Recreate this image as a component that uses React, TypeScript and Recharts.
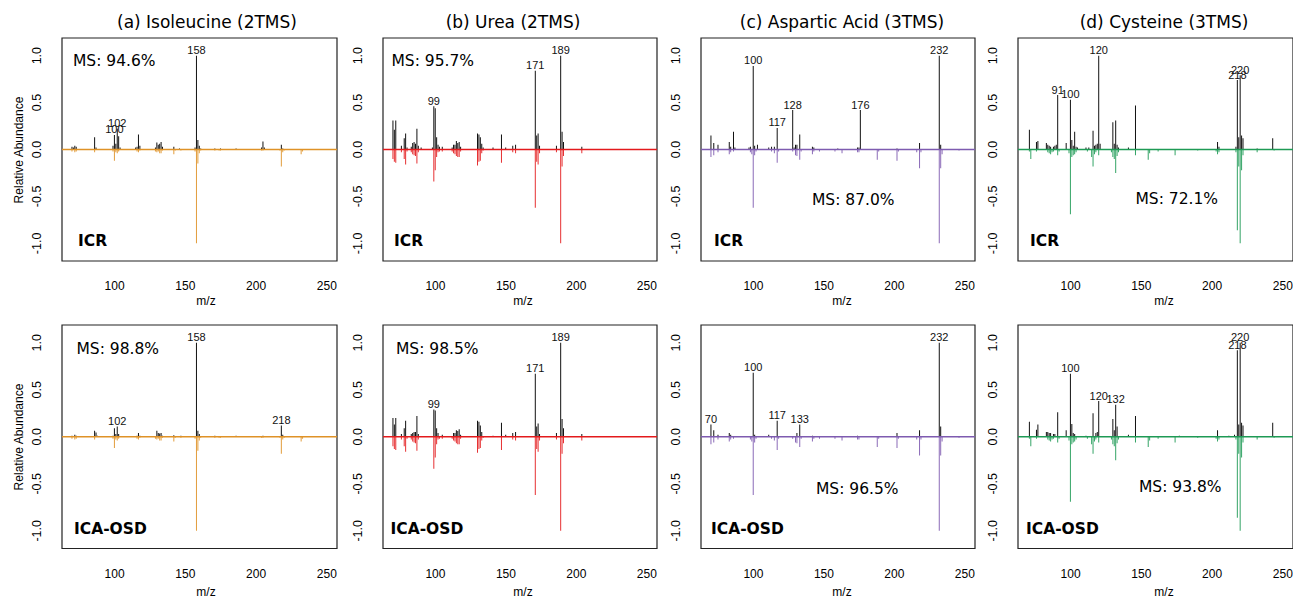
import React from "react";
import {
  Bar,
  ComposedChart,
  LabelList,
  ReferenceArea,
  ReferenceLine,
  XAxis,
  YAxis,
} from "recharts";

type Peak = [number, number];

const titles = [
  "(a) Isoleucine (2TMS)",
  "(b) Urea (2TMS)",
  "(c) Aspartic Acid (3TMS)",
  "(d) Cysteine (3TMS)",
];
const methods = ["ICR", "ICA-OSD"];
const icrScores = [94.6, 95.7, 87.0, 72.1];
const osdScores = [98.8, 98.5, 96.5, 93.8];
const xTicks = [100, 150, 200, 250];
const yTicks = [-1, -0.5, 0, 0.5, 1];
const xLim = [70, 250];
const yLim = [-1.1, 1.1];

// library spectra (drawn downwards), [m/z, relative abundance]
const ileLib: Peak[] = [[70,0.02],[72,0.03],[73,0.02],[86,0.03],[99,0.02],[100,0.12],[101,0.03],[102,0.04],[103,0.02],[116,0.02],[117,0.03],[118,0.01],[129,0.02],[130,0.03],[131,0.02],[132,0.04],[133,0.04],[134,0.01],[142,0.05],[143,0.01],[147,0.01],[157,0.02],[158,1.0],[159,0.15],[160,0.04],[161,0.01],[171,0.01],[174,0.01],[175,0.01],[204,0.01],[205,0.01],[217,0.01],[218,0.18],[219,0.03],[220,0.01],[232,0.05],[233,0.02]];
const ureaLib: Peak[] = [[70,0.10],[71,0.13],[72,0.14],[76,0.03],[78,0.10],[79,0.16],[80,0.02],[83,0.03],[84,0.05],[85,0.06],[86,0.07],[87,0.15],[88,0.03],[99,0.34],[100,0.22],[101,0.08],[102,0.03],[103,0.02],[105,0.02],[112,0.02],[113,0.04],[114,0.05],[115,0.07],[116,0.08],[117,0.08],[118,0.02],[130,0.17],[131,0.13],[132,0.12],[133,0.04],[134,0.01],[147,0.14],[155,0.03],[157,0.04],[171,0.62],[172,0.13],[173,0.16],[174,0.04],[186,0.03],[189,1.0],[190,0.18],[191,0.07],[204,0.04]];
const aspLib: Peak[] = [[70,0.08],[72,0.06],[75,0.03],[83,0.05],[84,0.03],[86,0.02],[98,0.03],[99,0.05],[100,0.62],[101,0.06],[102,0.02],[113,0.02],[115,0.04],[117,0.14],[118,0.02],[128,0.02],[130,0.06],[131,0.07],[133,0.11],[134,0.02],[142,0.05],[143,0.02],[147,0.02],[158,0.02],[163,0.04],[174,0.03],[175,0.03],[188,0.11],[189,0.02],[202,0.12],[203,0.02],[216,0.03],[218,0.20],[219,0.03],[232,1.0],[233,0.2],[234,0.05],[246,0.01]];
const cysLib: Peak[] = [[71,0.02],[72,0.10],[76,0.02],[84,0.03],[85,0.04],[86,0.05],[87,0.03],[88,0.02],[91,0.06],[92,0.02],[99,0.04],[100,0.69],[101,0.08],[102,0.06],[103,0.05],[104,0.03],[112,0.02],[115,0.08],[116,0.18],[117,0.05],[118,0.03],[120,0.06],[129,0.03],[130,0.08],[131,0.10],[132,0.25],[133,0.07],[134,0.03],[146,0.06],[155,0.11],[156,0.04],[162,0.02],[174,0.06],[190,0.01],[203,0.02],[204,0.05],[205,0.03],[217,0.03],[218,0.86],[219,0.18],[220,1.0],[221,0.22],[222,0.06],[232,0.03],[244,0.01]];

// extracted spectra, ICR
const ileIcr: Peak[] = [[70,0.03],[71,0.02],[72,0.04],[73,0.03],[86,0.13],[87,0.02],[99,0.04],[100,0.155],[101,0.06],[102,0.22],[103,0.14],[104,0.02],[115,0.02],[116,0.03],[117,0.16],[118,0.04],[129,0.02],[130,0.075],[131,0.05],[132,0.06],[133,0.08],[134,0.03],[142,0.03],[146,0.01],[157,0.02],[158,1.0],[159,0.1],[160,0.04],[161,0.01],[171,0.01],[175,0.01],[186,0.01],[204,0.02],[205,0.085],[206,0.02],[218,0.05],[219,0.01]];
const ureaIcr: Peak[] = [[70,0.31],[71,0.21],[72,0.31],[76,0.04],[78,0.12],[79,0.17],[80,0.02],[83,0.03],[84,0.07],[85,0.08],[86,0.06],[87,0.22],[88,0.04],[90,0.02],[98,0.02],[99,0.46],[100,0.44],[101,0.13],[102,0.05],[103,0.03],[105,0.03],[112,0.02],[113,0.05],[114,0.05],[115,0.09],[116,0.07],[117,0.08],[118,0.03],[130,0.17],[131,0.16],[132,0.13],[133,0.06],[134,0.02],[141,0.02],[147,0.16],[150,0.02],[155,0.04],[157,0.05],[171,0.84],[172,0.15],[173,0.17],[174,0.04],[186,0.04],[189,1.0],[190,0.19],[191,0.08],[204,0.03]];
const aspIcr: Peak[] = [[70,0.15],[72,0.07],[75,0.05],[83,0.08],[84,0.03],[86,0.19],[87,0.02],[97,0.02],[98,0.03],[100,0.89],[101,0.04],[103,0.05],[111,0.02],[113,0.03],[115,0.03],[117,0.23],[128,0.42],[129,0.02],[130,0.05],[131,0.05],[133,0.16],[142,0.03],[143,0.02],[160,0.01],[174,0.02],[175,0.02],[176,0.42],[202,0.01],[218,0.07],[232,1.0],[233,0.05]];
const cysIcr: Peak[] = [[71,0.21],[76,0.08],[77,0.09],[83,0.07],[84,0.05],[85,0.04],[86,0.03],[88,0.03],[89,0.04],[90,0.05],[91,0.58],[97,0.07],[100,0.53],[101,0.10],[102,0.04],[103,0.19],[104,0.03],[105,0.02],[111,0.02],[113,0.02],[116,0.20],[117,0.04],[118,0.05],[119,0.06],[120,1.0],[121,0.06],[130,0.29],[131,0.06],[132,0.31],[133,0.05],[134,0.02],[141,0.02],[146,0.47],[204,0.08],[205,0.03],[217,0.03],[218,0.74],[219,0.13],[220,0.79],[221,0.15],[222,0.12],[232,0.01],[243,0.12]];

// extracted spectra, ICA-OSD
const ileOsd: Peak[] = [[70,0.01],[72,0.02],[73,0.01],[86,0.065],[87,0.045],[88,0.01],[99,0.01],[100,0.09],[101,0.03],[102,0.11],[103,0.03],[116,0.01],[117,0.04],[118,0.01],[130,0.065],[131,0.04],[132,0.035],[133,0.04],[134,0.01],[142,0.015],[147,0.01],[158,1.0],[159,0.065],[160,0.03],[171,0.01],[186,0.01],[205,0.01],[218,0.12],[219,0.02]];
const ureaOsd: Peak[] = [[70,0.20],[71,0.13],[72,0.20],[76,0.03],[78,0.09],[79,0.17],[83,0.03],[84,0.04],[85,0.05],[86,0.05],[87,0.22],[88,0.03],[99,0.29],[100,0.28],[101,0.09],[102,0.04],[105,0.02],[113,0.04],[114,0.04],[115,0.07],[116,0.06],[117,0.08],[118,0.02],[130,0.17],[131,0.16],[132,0.12],[133,0.05],[141,0.01],[147,0.15],[150,0.02],[155,0.04],[157,0.05],[171,0.67],[172,0.11],[173,0.14],[174,0.03],[186,0.04],[189,1.0],[190,0.19],[191,0.09],[204,0.03]];
const aspOsd: Peak[] = [[70,0.13],[72,0.07],[75,0.02],[83,0.04],[84,0.02],[100,0.68],[101,0.02],[111,0.02],[117,0.17],[131,0.04],[133,0.13],[142,0.01],[174,0.01],[202,0.04],[218,0.07],[232,1.0],[233,0.11]];
const cysOsd: Peak[] = [[71,0.16],[76,0.075],[77,0.13],[83,0.05],[84,0.05],[85,0.04],[86,0.04],[88,0.03],[89,0.03],[91,0.26],[97,0.07],[100,0.67],[101,0.135],[102,0.04],[103,0.03],[111,0.01],[116,0.25],[118,0.04],[119,0.05],[120,0.38],[130,0.19],[131,0.07],[132,0.34],[133,0.11],[141,0.02],[146,0.22],[177,0.01],[204,0.07],[212,0.01],[216,0.02],[218,0.92],[219,0.13],[220,1.0],[221,0.15],[222,0.12],[243,0.15]];

// annotated m/z values
const icrMarks = [[100, 102, 158], [99, 171, 189], [100, 117, 128, 176, 232], [91, 100, 120, 218, 220]];
const osdMarks = [[102, 158, 218], [99, 171, 189], [70, 100, 117, 133, 232], [100, 120, 132, 218, 220]];

const libSpectra = [ileLib, ureaLib, aspLib, cysLib];
const icrSpectra = [ileIcr, ureaIcr, aspIcr, cysIcr];
const osdSpectra = [ileOsd, ureaOsd, aspOsd, cysOsd];
const colors = ["#DF9227", "#E31A1C", "#7E5BB0", "#1E9A55"];

// panel geometry (plot boxes) and text placement
const colX = [62, 382.5, 701, 1017.5];
const colW = [275, 274, 274, 275];
const rowY = [38, 325];
const rowH = [223, 223.5];
const titleX = [207, 513, 842, 1164];
const mzX = [206, 523, 842, 1164];
const mzY = [301, 592];
const msPos = [
  [[73, 61], [391.5, 61], [812, 200], [1135.5, 199]],
  [[76.5, 349], [396, 349], [816, 489], [1139, 487]],
];
const methodX = [[78, 394, 714, 1030], [74, 390.5, 711, 1026]];
const methodY = [240.5, 528.5];

const PAD_L = 60;
const PAD_R = 4;
const PAD_T = 4;
const PAD_B = 50;

const widen = (lim: number[]) => {
  const d = (lim[1] - lim[0]) * 0.04;
  return [lim[0] - d, lim[1] + d];
};
const xDomain = widen(xLim);
const yDomain = widen(yLim);

const SANS = "'DejaVu Sans', Verdana, sans-serif";
const ARIAL = "'Liberation Sans', Arial, sans-serif";

function mirrorRows(ext: Peak[], lib: Peak[]) {
  const map = new Map<number, { mz: number; ext: number; lib: number }>();
  const row = (mz: number) => {
    if (!map.has(mz)) map.set(mz, { mz, ext: 0, lib: 0 });
    return map.get(mz)!;
  };
  ext.forEach(([mz, v]) => (row(mz).ext = v));
  lib.forEach(([mz, v]) => (row(mz).lib = -v));
  return [...map.values()].sort((a, b) => a.mz - b.mz);
}

const renderXTick = (p: any) => (
  <text
    x={p.x}
    y={p.y + 25}
    textAnchor="middle"
    dominantBaseline="central"
    fontSize={12}
    fontFamily={ARIAL}
    fill="#000"
  >
    {p.payload.value}
  </text>
);

const renderYTick = (p: any) => {
  const tx = p.x - 25;
  return (
    <text
      x={tx}
      y={p.y}
      transform={`rotate(-90 ${tx} ${p.y})`}
      textAnchor="middle"
      dominantBaseline="central"
      fontSize={12.5}
      fontFamily={ARIAL}
      fill="#000"
    >
      {Number(p.payload.value).toFixed(1)}
    </text>
  );
};

const peakLabel = (marks: number[]) => (p: any) => {
  const mz = Number(p.value);
  if (!marks.includes(mz)) return null;
  return (
    <text
      x={Number(p.x) + Number(p.width) / 2}
      y={Number(p.y) - 1.5}
      textAnchor="middle"
      fontSize={11}
      fontFamily={ARIAL}
      fill="#111"
    >
      {mz}
    </text>
  );
};

function SpectrumPanel({
  rows,
  color,
  marks,
  x,
  y,
  w,
  h,
}: {
  rows: { mz: number; ext: number; lib: number }[];
  color: string;
  marks: number[];
  x: number;
  y: number;
  w: number;
  h: number;
}) {
  return (
    <div style={{ position: "absolute", left: x - PAD_L, top: y - PAD_T }}>
      <ComposedChart
        width={w + PAD_L + PAD_R}
        height={h + PAD_T + PAD_B}
        data={rows}
        stackOffset="sign"
        margin={{ top: PAD_T, right: PAD_R, bottom: 0, left: 0 }}
      >
        <XAxis
          dataKey="mz"
          type="number"
          domain={xDomain}
          ticks={xTicks}
          allowDataOverflow
          interval={0}
          axisLine={false}
          tickLine={false}
          tickSize={0}
          tickMargin={0}
          height={PAD_B}
          tick={renderXTick}
        />
        <YAxis
          type="number"
          domain={yDomain}
          ticks={yTicks}
          allowDataOverflow
          interval={0}
          axisLine={false}
          tickLine={false}
          tickSize={0}
          tickMargin={0}
          width={PAD_L}
          tick={renderYTick}
        />
        <Bar
          dataKey="lib"
          stackId="mirror"
          fill={color}
          fillOpacity={0.9}
          barSize={1}
          isAnimationActive={false}
        />
        <Bar
          dataKey="ext"
          stackId="mirror"
          fill="#111"
          barSize={1}
          isAnimationActive={false}
        >
          <LabelList dataKey="mz" content={peakLabel(marks)} />
        </Bar>
        <ReferenceLine y={0} stroke={color} strokeWidth={1.5} />
        <ReferenceArea
          x1={xDomain[0]}
          x2={xDomain[1]}
          y1={yDomain[0]}
          y2={yDomain[1]}
          fill="none"
          stroke="#222"
          strokeWidth={1.2}
        />
      </ComposedChart>
    </div>
  );
}

export default function App() {
  const rowsets = [icrSpectra, osdSpectra];
  const markSets = [icrMarks, osdMarks];
  const scoreSets = [icrScores, osdScores];
  return (
    <div
      style={{
        position: "absolute",
        left: 0,
        top: 0,
        width: 1293,
        height: 598,
        background: "#fff",
        overflow: "hidden",
      }}
    >
      {rowsets.map((spectra, r) =>
        spectra.map((ext, c) => (
          <SpectrumPanel
            key={`${r}-${c}`}
            rows={mirrorRows(ext, libSpectra[c])}
            color={colors[c]}
            marks={markSets[r][c]}
            x={colX[c]}
            y={rowY[r]}
            w={colW[c]}
            h={rowH[r]}
          />
        ))
      )}
      <svg
        width={1293}
        height={598}
        style={{ position: "absolute", left: 0, top: 0, pointerEvents: "none" }}
      >
        {titles.map((t, c) => (
          <text
            key={t}
            x={titleX[c]}
            y={21.5}
            textAnchor="middle"
            dominantBaseline="central"
            fontSize={17}
            fontFamily={SANS}
            fill="#000"
          >
            {t}
          </text>
        ))}
        {mzY.map((yy, r) =>
          mzX.map((xx, c) => (
            <text
              key={`mz-${r}-${c}`}
              x={xx}
              y={yy}
              textAnchor="middle"
              dominantBaseline="central"
              fontSize={12}
              fontFamily={ARIAL}
              fill="#000"
            >
              m/z
            </text>
          ))
        )}
        {[150, 437].map((yy) => (
          <text
            key={`ylab-${yy}`}
            x={19}
            y={yy}
            transform={`rotate(-90 19 ${yy})`}
            textAnchor="middle"
            dominantBaseline="central"
            fontSize={12}
            fontFamily={ARIAL}
            fill="#000"
          >
            Relative Abundance
          </text>
        ))}
        {scoreSets.map((scores, r) =>
          scores.map((s, c) => (
            <text
              key={`ms-${r}-${c}`}
              x={msPos[r][c][0]}
              y={msPos[r][c][1]}
              dominantBaseline="central"
              fontSize={15.5}
              fontFamily={SANS}
              fill="#000"
            >
              {`MS: ${s.toFixed(1)}%`}
            </text>
          ))
        )}
        {methods.map((m, r) =>
          methodX[r].map((xx, c) => (
            <text
              key={`m-${r}-${c}`}
              x={xx}
              y={methodY[r]}
              dominantBaseline="central"
              fontSize={15.5}
              fontWeight="bold"
              fontFamily={SANS}
              fill="#000"
            >
              {m}
            </text>
          ))
        )}
      </svg>
    </div>
  );
}
